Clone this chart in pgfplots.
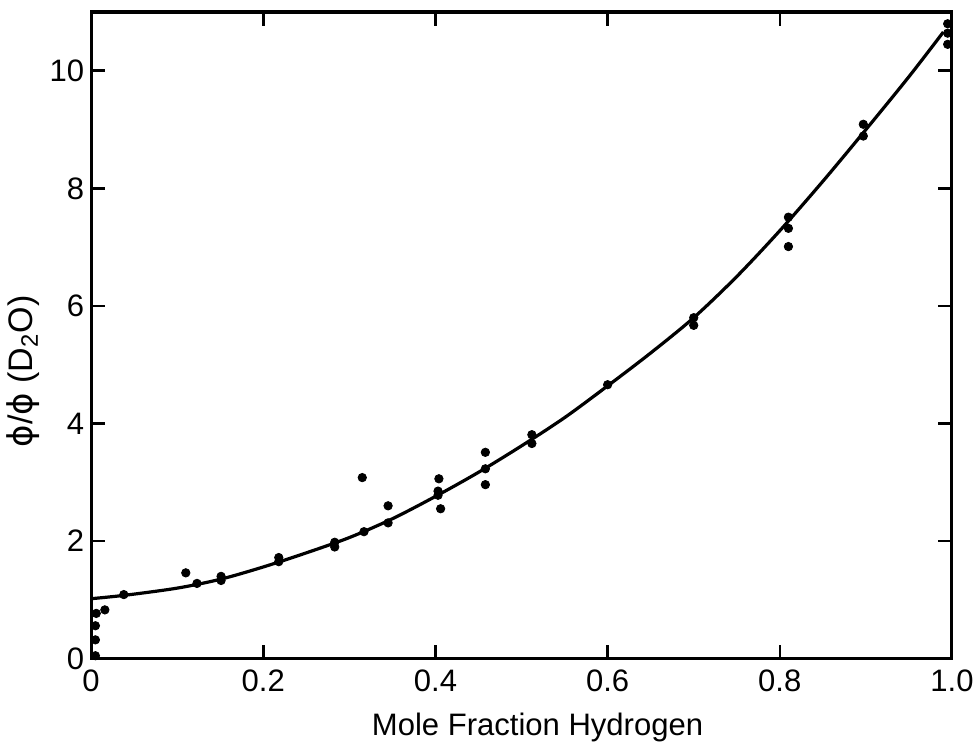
\documentclass[border=0pt]{standalone}
\usepackage{pgfplots}
\pgfplotsset{compat=1.18}
\usepackage{fontspec}
\setmainfont{Liberation Sans}
\newfontfamily\dejavu{DejaVu Sans}
\begin{document}
\begin{tikzpicture}
\begin{axis}[
  scale only axis,
  width=430pt, height=323pt,
  xmin=0, xmax=1, ymin=0, ymax=11,
  xtick={0,0.2,0.4,0.6,0.8,1.0},
  xticklabels={0,0.2,0.4,0.6,0.8,1.0},
  ytick={0,2,4,6,8,10},
  tick align=inside,
  major tick length=7pt,
  tick style={line width=1.3pt, black},
  axis line style={line width=1.5pt},
  /pgf/number format/assume math mode=true,
  ticklabel style={font=\fontsize{15.5}{17}\selectfont},
  xlabel style={font=\fontsize{15.5}{17}\selectfont, yshift=-4pt, xshift=8pt},
  ylabel style={font=\fontsize{17}{19}\selectfont, xshift=-18pt, yshift=-2pt},
  xticklabel style={yshift=-2pt},
  xlabel={Mole Fraction Hydrogen},
  ylabel={{\dejavu ϕ}/{\dejavu ϕ} (D\textsubscript{2}O)},
  clip=false,
]
\addplot[black, line width=1.6pt, smooth, tension=0.5] coordinates {
(0,1.02)(0.04,1.08)(0.1,1.2)(0.15,1.35)(0.2,1.56)(0.25,1.8)(0.3,2.06)(0.35,2.38)
(0.4,2.76)(0.45,3.17)(0.5,3.62)(0.55,4.1)(0.6,4.64)(0.65,5.2)(0.7,5.8)(0.75,6.5)
(0.8,7.28)(0.85,8.12)(0.9,9.0)(0.95,9.9)(0.99,10.66)};
\addplot[only marks, mark=*, mark size=2.1pt, black] coordinates {
(0.005,0.05)(0.005,0.32)(0.005,0.56)(0.006,0.77)(0.016,0.83)(0.038,1.09)
(0.11,1.46)(0.123,1.28)(0.151,1.33)(0.151,1.40)(0.218,1.65)(0.218,1.72)
(0.283,1.90)(0.283,1.98)(0.317,2.16)(0.315,3.08)(0.345,2.60)(0.345,2.31)
(0.404,3.06)(0.403,2.78)(0.403,2.85)(0.406,2.55)(0.458,3.51)(0.458,3.23)
(0.458,2.96)(0.512,3.81)(0.512,3.66)(0.6,4.66)(0.70,5.80)(0.70,5.67)
(0.81,7.51)(0.81,7.32)(0.81,7.01)(0.897,9.09)(0.897,8.89)
(0.995,10.8)(0.995,10.64)(0.995,10.45)};
\end{axis}
\pgfresetboundingbox
\path ([xshift=-45.5pt,yshift=-42pt]current axis.south west) rectangle ([xshift=13.5pt,yshift=6pt]current axis.north east);
\end{tikzpicture}
\end{document}
